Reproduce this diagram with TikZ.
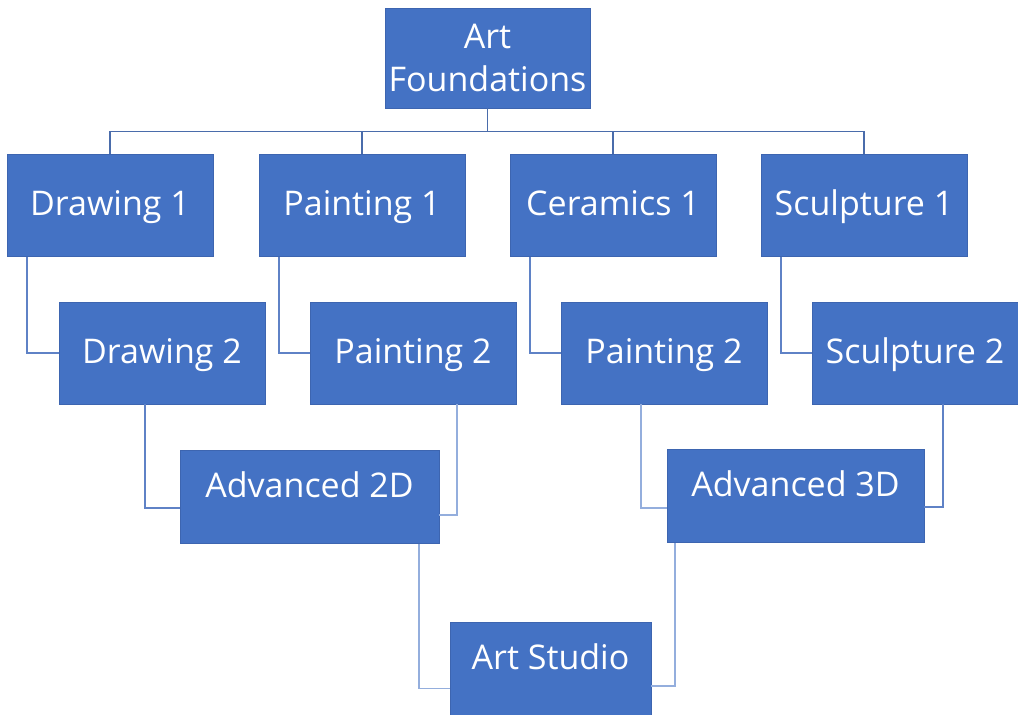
\documentclass[tikz,border=0pt]{standalone}
\usepackage{fontspec}
\setmainfont{Open Sans}
\definecolor{boxblue}{HTML}{4472C4}
\definecolor{boxedge}{HTML}{3D65B0}
\definecolor{lineDark}{HTML}{4A6CAB}
\definecolor{lineMid}{HTML}{5F82C6}
\definecolor{lineLight}{HTML}{94AEDD}
\begin{document}
\begin{tikzpicture}[x=1pt, y=-1pt,
  course/.style={draw=boxedge, line width=0.8pt, fill=boxblue, text=white,
    font=\fontsize{34}{43}\selectfont, inner sep=0pt,
    minimum width=206pt, minimum height=102pt, text height=26pt, text depth=6pt},
  upper/.style={course, minimum width=#1, minimum height=93pt, text depth=25pt},
  link/.style={line width=1.8pt, lineMid},
  faint/.style={line width=1.8pt, lineLight}]
\useasboundingbox (0,0) rectangle (1018,715);

\node[course, align=center, minimum width=205pt, minimum height=100pt,
  text height=, text depth=] (found) at (487.5,58) {Art\\Foundations};

\node[course] (draw1) at (110,205.5) {Drawing 1};
\node[course] (paint1) at (362,205.5) {Painting 1};
\node[course] (ceram1) at (613,205.5) {Ceramics 1};
\node[course] (sculpt1) at (864,205.5) {Sculpture 1};

\node[course] (draw2) at (162,353) {Drawing 2};
\node[course] (paint2) at (413,353) {Painting 2};
\node[course] (paint2b) at (664,353) {Painting 2};
\node[course] (sculpt2) at (915,353) {Sculpture 2};

\node[upper=259pt] (adv2d) at (309.5,497) {Advanced 2D};
\node[upper=257pt] (adv3d) at (795.5,496) {Advanced 3D};
\node[upper=201pt] (studio) at (550.5,668.5) {Art Studio};

\foreach \c in {draw1,paint1,ceram1,sculpt1}
  \draw[link, lineDark] (found.south) -- ++(0,23) -| (\c.north);

\draw[link] ([xshift=20pt]draw1.south west) |- (draw2.west);
\draw[link] ([xshift=20pt]paint1.south west) |- (paint2.west);
\draw[link] ([xshift=20pt]ceram1.south west) |- (paint2b.west);
\draw[link] ([xshift=20pt]sculpt1.south west) |- (sculpt2.west);

\draw[link] ([xshift=-17pt]draw2.south) |- ([yshift=-11pt]adv2d.west);
\draw[faint] ([xshift=44pt]paint2.south) |- ([yshift=-18pt]adv2d.east);
\draw[faint] ([xshift=-23pt]paint2b.south) |- ([yshift=-12pt]adv3d.west);
\draw[link] ([xshift=28pt]sculpt2.south) |- ([yshift=-11pt]adv3d.east);

\draw[faint] ([xshift=109.5pt]adv2d.south) |- ([yshift=-20pt]studio.west);
\draw[faint] ([xshift=-120.5pt]adv3d.south) |- ([yshift=-17.5pt]studio.east);
\end{tikzpicture}
\end{document}
